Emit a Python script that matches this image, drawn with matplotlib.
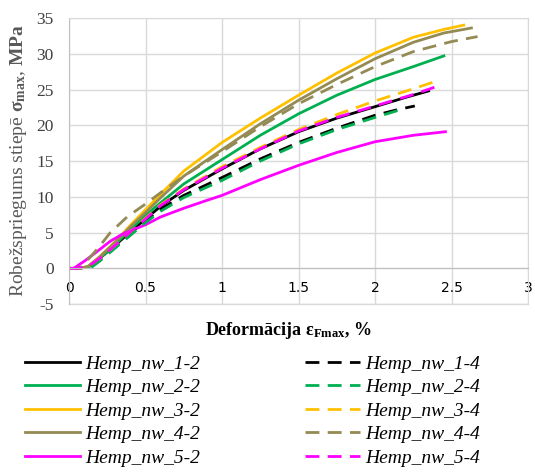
import numpy as np
import matplotlib
matplotlib.use("Agg")
import matplotlib.pyplot as plt

plt.rcParams['mathtext.fontset'] = 'custom'
plt.rcParams['mathtext.rm'] = 'Liberation Serif'
plt.rcParams['mathtext.it'] = 'Liberation Serif:italic'
plt.rcParams['mathtext.bf'] = 'Liberation Serif:bold'

# strain (%) and stress (MPa)
x_1_2 = [0, 0.05, 0.12, 0.2, 0.3, 0.4, 0.5, 0.6, 0.75, 1.0, 1.25, 1.5, 1.75, 2.0, 2.2, 2.35]
y_1_2 = [0, 0, 0.2, 1.4, 3.2, 5.1, 6.9, 8.7, 10.9, 13.9, 16.7, 19.1, 21.0, 22.6, 23.9, 24.8]
x_2_2 = [0, 0.05, 0.13, 0.2, 0.3, 0.4, 0.5, 0.6, 0.75, 1.0, 1.25, 1.5, 1.75, 2.0, 2.25, 2.45]
y_2_2 = [0, 0, 0.2, 1.4, 3.3, 5.4, 7.4, 9.2, 11.8, 15.2, 18.6, 21.6, 24.2, 26.4, 28.2, 29.7]
x_3_2 = [0, 0.05, 0.12, 0.2, 0.3, 0.4, 0.5, 0.6, 0.75, 1.0, 1.25, 1.5, 1.75, 2.0, 2.25, 2.45, 2.58]
y_3_2 = [0, 0, 0.2, 1.6, 3.7, 6.0, 8.2, 10.4, 13.6, 17.6, 21.0, 24.2, 27.3, 30.1, 32.3, 33.4, 34.0]
x_4_2 = [0, 0.05, 0.12, 0.2, 0.3, 0.4, 0.5, 0.6, 0.75, 1.0, 1.25, 1.5, 1.75, 2.0, 2.25, 2.45, 2.63]
y_4_2 = [0, 0, 0.2, 1.6, 3.6, 5.8, 7.8, 9.9, 12.9, 16.6, 20.2, 23.5, 26.5, 29.3, 31.6, 32.9, 33.6]
x_5_2 = [0, 0.03, 0.1, 0.18, 0.27, 0.35, 0.5, 0.6, 0.7, 0.75, 0.9, 1.0, 1.25, 1.5, 1.75, 2.0, 2.25, 2.46]
y_5_2 = [0, 0, 1.0, 2.3, 3.8, 4.8, 6.1, 7.2, 8.0, 8.4, 9.5, 10.2, 12.4, 14.4, 16.2, 17.7, 18.6, 19.1]

x_1_4 = [0, 0.05, 0.13, 0.2, 0.3, 0.4, 0.5, 0.6, 0.75, 1.0, 1.25, 1.5, 1.75, 2.0, 2.15, 2.26]
y_1_4 = [0, 0, 0.2, 1.3, 3.0, 4.9, 6.7, 8.3, 10.2, 12.7, 15.3, 17.6, 19.6, 21.4, 22.2, 22.7]
x_2_4 = [0, 0.05, 0.15, 0.2, 0.3, 0.4, 0.5, 0.6, 0.75, 1.0, 1.25, 1.5, 1.75, 2.0, 2.17]
y_2_4 = [0, 0, 0.2, 1.0, 2.8, 4.6, 6.4, 8.0, 9.9, 12.3, 15.0, 17.4, 19.4, 21.1, 22.2]
x_3_4 = [0, 0.05, 0.12, 0.2, 0.3, 0.4, 0.5, 0.6, 0.75, 1.0, 1.25, 1.5, 1.75, 2.0, 2.25, 2.39]
y_3_4 = [0, 0, 0.2, 1.4, 3.2, 5.1, 7.0, 8.9, 11.1, 14.2, 16.9, 19.4, 21.5, 23.4, 25.1, 26.1]
x_4_4 = [0, 0.07, 0.14, 0.2, 0.27, 0.38, 0.5, 0.6, 0.75, 1.0, 1.25, 1.5, 1.75, 2.0, 2.25, 2.5, 2.67]
y_4_4 = [0, 0, 1.6, 3.1, 5.0, 7.2, 9.0, 10.6, 12.9, 16.3, 19.8, 23.0, 25.7, 28.2, 30.3, 31.7, 32.4]
x_5_4 = [0, 0.05, 0.12, 0.2, 0.3, 0.4, 0.5, 0.6, 0.75, 1.0, 1.25, 1.5, 1.75, 2.0, 2.25, 2.40]
y_5_4 = [0, 0, 0.2, 1.4, 3.2, 5.1, 6.9, 8.8, 11.0, 14.0, 16.7, 19.2, 21.1, 22.7, 24.3, 25.4]

labels = ["1-2", "2-2", "3-2", "4-2", "5-2", "1-4", "2-4", "3-4", "4-4", "5-4"]
colors = ['#000000', '#00B050', '#FFC000', '#948A54', '#FF00FF']

xs = [x_1_2, x_2_2, x_3_2, x_4_2, x_5_2, x_1_4, x_2_4, x_3_4, x_4_4, x_5_4]
ys = [y_1_2, y_2_2, y_3_2, y_4_2, y_5_2, y_1_4, y_2_4, y_3_4, y_4_4, y_5_4]

fig = plt.figure(figsize=(5.35, 4.73), dpi=100)
ax = fig.add_axes([0.129, 0.357, 0.858, 0.605])

for i, (x, y) in enumerate(zip(xs, ys)):
    ls = (0, (5, 3)) if i >= 5 else '-'
    ax.plot(x, y, color=colors[i % 5], lw=2, ls=ls,
            solid_joinstyle='round', dash_joinstyle='round',
            label="Hemp_nw_" + labels[i])

ax.set_xlim(0, 3)
ax.set_ylim(-5, 35)
ax.set_xticks(np.arange(0, 3.01, 0.5))
ax.set_xticklabels(['0', '0.5', '1', '1.5', '2', '2.5', '3'],
                   fontfamily='Liberation Sans', fontsize=14, color='#404040')
ax.set_yticks(np.arange(-5, 36, 5))
ax.set_yticklabels([str(v) for v in range(-5, 36, 5)],
                   fontfamily='Liberation Serif', fontsize=12.5, color='#404040')
ax.tick_params(axis='x', length=0, pad=9)
ax.tick_params(axis='y', length=0, pad=11)
ax.grid(True, color='#d9d9d9', lw=1)
ax.set_axisbelow(True)
for s in ax.spines.values():
    s.set_color('#d9d9d9')
ax.spines['bottom'].set_position(('data', 0))
ax.spines['bottom'].set_color('#bfbfbf')
ax.spines['left'].set_color('#bfbfbf')
ax.axhline(-5, color='#d9d9d9', lw=1, clip_on=False)

fig.text(0.035, 0.66, r"Robežspriegums stiepē $\mathbf{\sigma_{max}}$, $\mathbf{MPa}$",
         rotation=90, ha='center', va='center', fontfamily='Liberation Serif',
         fontsize=14, color='#595959')
fig.text(0.54, 0.302, r"Deformācija $\mathbf{\varepsilon_{Fmax}}$, %",
         ha='center', va='center', fontfamily='Liberation Serif',
         fontsize=13, fontweight='bold')

fig.legend(loc='upper left', bbox_to_anchor=(0.047, 0.249), ncol=2, frameon=False,
           prop={'family': 'Liberation Serif', 'style': 'italic', 'size': 14},
           handlelength=2.8, handletextpad=0.3, columnspacing=5.4,
           labelspacing=0.3, borderpad=0, borderaxespad=0)

fig.savefig("out.png", dpi=100)
